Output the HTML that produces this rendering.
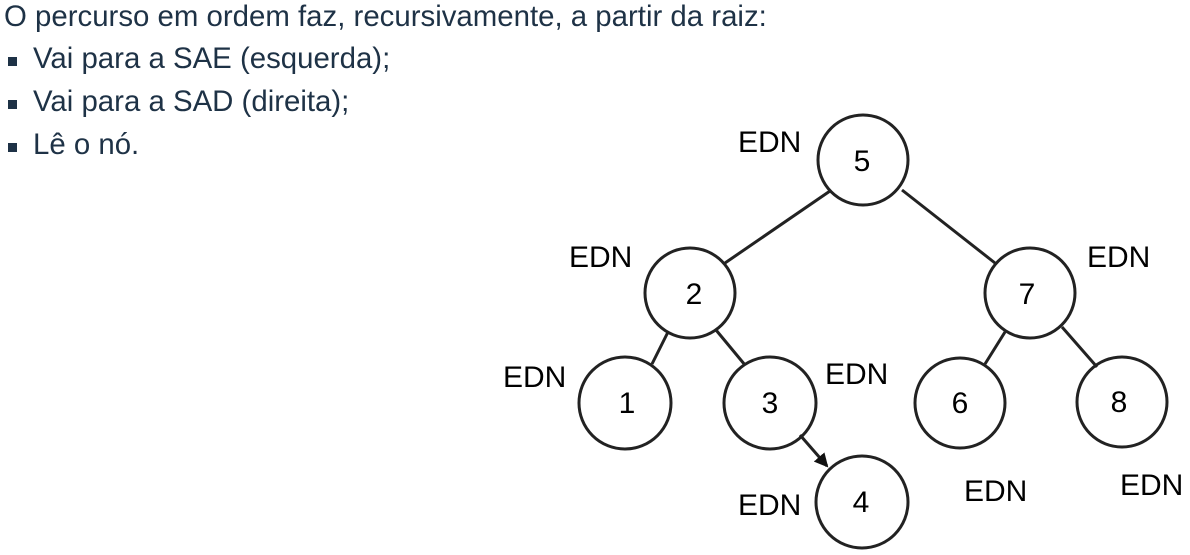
<!DOCTYPE html>
<html><head><style>
body{margin:0;width:1190px;height:555px;background:#fff;overflow:hidden;position:relative;font-family:"Liberation Sans",sans-serif}
.t{position:absolute;left:4px;color:#1e3246;font-size:29.4px;white-space:nowrap}
.b{position:absolute;left:8px;width:9px;height:9px;background:#1e3246}
</style></head><body>
<div class="t" style="top:0px">O percurso em ordem faz, recursivamente, a partir da raiz:</div>
<div class="b" style="top:57px"></div><div class="t" style="left:33px;top:42px">Vai para a SAE (esquerda);</div>
<div class="b" style="top:100px"></div><div class="t" style="left:33px;top:85px">Vai para a SAD (direita);</div>
<div class="b" style="top:143px"></div><div class="t" style="left:33px;top:128px">Lê o nó.</div>
<svg width="1190" height="555" style="position:absolute;left:0;top:0" font-family="Liberation Sans, sans-serif" font-size="30">
<defs><marker id="a" markerWidth="14" markerHeight="14" refX="12" refY="7" orient="auto" markerUnits="userSpaceOnUse"><path d="M0,0 L14,7 L0,14z" fill="#111"/></marker></defs>
<g stroke="#222" stroke-width="3" fill="none">
<line x1="830" y1="191" x2="725" y2="263"/>
<line x1="902" y1="190" x2="995" y2="263"/>
<line x1="668" y1="332" x2="652" y2="364"/>
<line x1="716" y1="330" x2="745" y2="365"/>
<line x1="1005" y1="332" x2="985" y2="364"/>
<line x1="1062" y1="327" x2="1097" y2="367"/>
<line x1="800" y1="435" x2="827" y2="466" marker-end="url(#a)"/>
<circle cx="863" cy="160" r="45"/>
<circle cx="690" cy="293" r="45"/>
<circle cx="1030" cy="293" r="45"/>
<circle cx="625" cy="403" r="46"/>
<circle cx="770" cy="403" r="46"/>
<circle cx="960" cy="403" r="45"/>
<circle cx="1122" cy="402" r="45"/>
<circle cx="862" cy="502" r="46"/>
</g>
<g fill="#000" text-anchor="middle">
<text x="862" y="171">5</text><text x="694" y="304">2</text><text x="1027" y="304">7</text>
<text x="627" y="413">1</text><text x="770" y="413">3</text><text x="960" y="413">6</text>
<text x="1119" y="412">8</text><text x="861" y="512">4</text>
</g>
<g fill="#000">
<text x="738" y="152">EDN</text><text x="569" y="267">EDN</text><text x="1087" y="267">EDN</text>
<text x="503" y="387">EDN</text><text x="825" y="384">EDN</text><text x="738" y="515">EDN</text>
<text x="964" y="501">EDN</text><text x="1120" y="495">EDN</text>
</g>
</svg>
</body></html>
